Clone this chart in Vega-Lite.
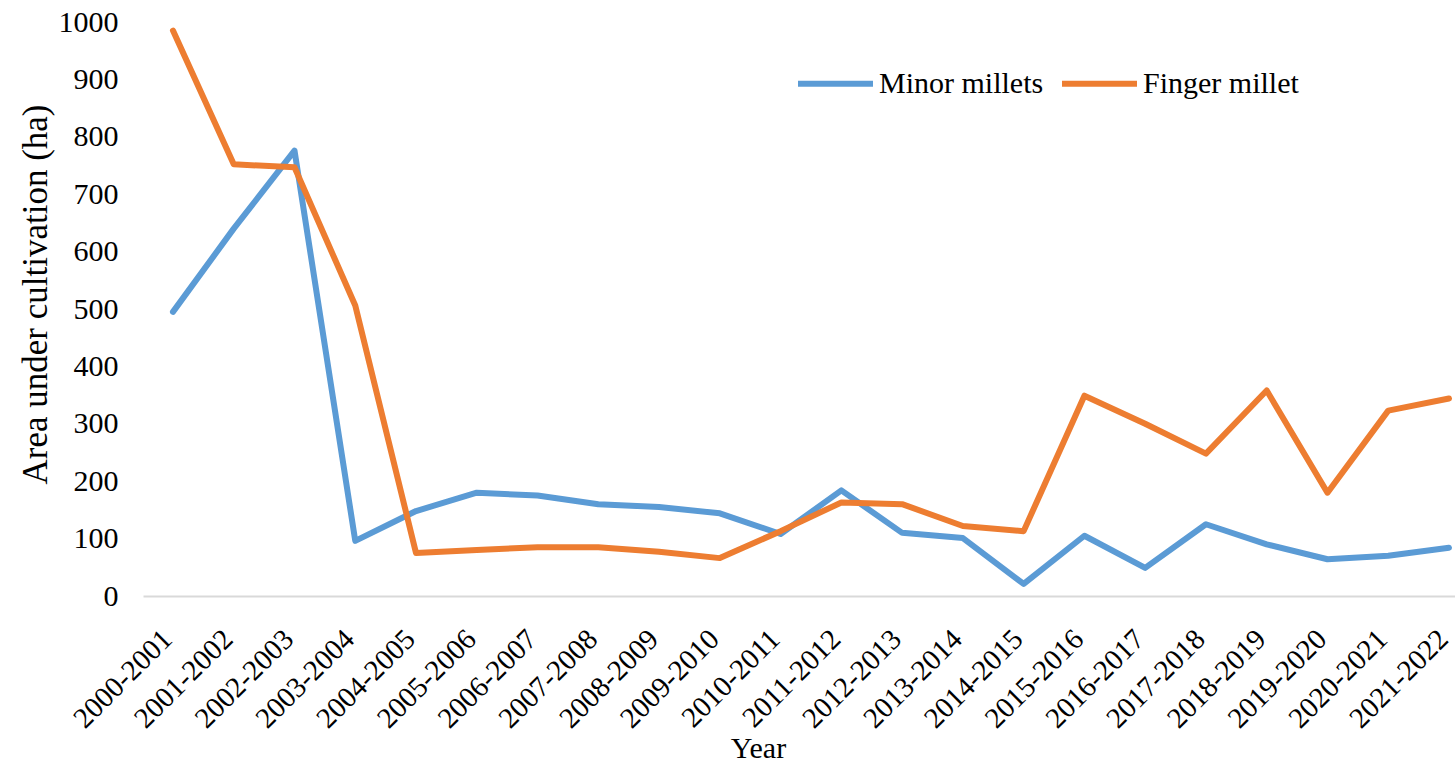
{
  "$schema": "https://vega.github.io/schema/vega-lite/v6.json",
  "width": 1312,
  "height": 574,
  "autosize": "none",
  "padding": {"left": 143, "top": 22, "right": 0, "bottom": 168},
  "background": "white",
  "config": {"view": {"stroke": null}, "font": "Liberation Serif"},
  "data": {
    "values": [
      {"year": "2000-2001", "series": "Minor millets", "value": 495},
      {"year": "2001-2002", "series": "Minor millets", "value": 640},
      {"year": "2002-2003", "series": "Minor millets", "value": 776},
      {"year": "2003-2004", "series": "Minor millets", "value": 96},
      {"year": "2004-2005", "series": "Minor millets", "value": 148},
      {"year": "2005-2006", "series": "Minor millets", "value": 180},
      {"year": "2006-2007", "series": "Minor millets", "value": 175},
      {"year": "2007-2008", "series": "Minor millets", "value": 160},
      {"year": "2008-2009", "series": "Minor millets", "value": 155},
      {"year": "2009-2010", "series": "Minor millets", "value": 144},
      {"year": "2010-2011", "series": "Minor millets", "value": 108},
      {"year": "2011-2012", "series": "Minor millets", "value": 184},
      {"year": "2012-2013", "series": "Minor millets", "value": 110},
      {"year": "2013-2014", "series": "Minor millets", "value": 101},
      {"year": "2014-2015", "series": "Minor millets", "value": 21},
      {"year": "2015-2016", "series": "Minor millets", "value": 105},
      {"year": "2016-2017", "series": "Minor millets", "value": 49},
      {"year": "2017-2018", "series": "Minor millets", "value": 125},
      {"year": "2018-2019", "series": "Minor millets", "value": 90},
      {"year": "2019-2020", "series": "Minor millets", "value": 64},
      {"year": "2020-2021", "series": "Minor millets", "value": 70},
      {"year": "2021-2022", "series": "Minor millets", "value": 84},
      {"year": "2000-2001", "series": "Finger millet", "value": 985},
      {"year": "2001-2002", "series": "Finger millet", "value": 752},
      {"year": "2002-2003", "series": "Finger millet", "value": 747},
      {"year": "2003-2004", "series": "Finger millet", "value": 506},
      {"year": "2004-2005", "series": "Finger millet", "value": 75},
      {"year": "2005-2006", "series": "Finger millet", "value": 80},
      {"year": "2006-2007", "series": "Finger millet", "value": 85},
      {"year": "2007-2008", "series": "Finger millet", "value": 85},
      {"year": "2008-2009", "series": "Finger millet", "value": 77},
      {"year": "2009-2010", "series": "Finger millet", "value": 66},
      {"year": "2010-2011", "series": "Finger millet", "value": 113},
      {"year": "2011-2012", "series": "Finger millet", "value": 163},
      {"year": "2012-2013", "series": "Finger millet", "value": 160},
      {"year": "2013-2014", "series": "Finger millet", "value": 122},
      {"year": "2014-2015", "series": "Finger millet", "value": 113},
      {"year": "2015-2016", "series": "Finger millet", "value": 349},
      {"year": "2016-2017", "series": "Finger millet", "value": 300},
      {"year": "2017-2018", "series": "Finger millet", "value": 248},
      {"year": "2018-2019", "series": "Finger millet", "value": 358},
      {"year": "2019-2020", "series": "Finger millet", "value": 180},
      {"year": "2020-2021", "series": "Finger millet", "value": 323},
      {"year": "2021-2022", "series": "Finger millet", "value": 344}
    ]
  },
  "mark": {"type": "line", "strokeWidth": 6, "strokeJoin": "round", "strokeCap": "round"},
  "encoding": {
    "x": {
      "field": "year",
      "type": "ordinal",
      "sort": null,
      "scale": {"type": "point", "padding": 0.296, "align": 0.833},
      "axis": {
        "title": "Year",
        "labelAngle": -45,
        "labelAlign": "right",
        "labelBaseline": "middle",
        "labelPadding": 38,
        "labelOffset": -6,
        "labelOverlap": false,
        "ticks": false,
        "grid": false,
        "domainColor": "#d9d9d9",
        "domainWidth": 2,
        "labelFontSize": 29,
        "labelColor": "#000000",
        "titleFontSize": 30,
        "titleFontWeight": "normal",
        "titleColor": "#000000",
        "titleX": 615,
        "titleY": 161,
        "titleAlign": "center",
        "titleBaseline": "alphabetic"
      }
    },
    "y": {
      "field": "value",
      "type": "quantitative",
      "scale": {"domain": [0, 1000], "nice": false},
      "axis": {
        "title": "Area  under  cultivation  (ha)",
        "values": [0, 100, 200, 300, 400, 500, 600, 700, 800, 900, 1000],
        "format": "d",
        "grid": false,
        "domain": false,
        "ticks": false,
        "labelPadding": 25,
        "labelFontSize": 30,
        "labelColor": "#000000",
        "titleFontSize": 35,
        "titleFontWeight": "normal",
        "titleColor": "#000000",
        "titleAngle": -90,
        "titleX": -108,
        "titleY": 272,
        "titleAlign": "center",
        "titleBaseline": "middle"
      }
    },
    "color": {
      "field": "series",
      "type": "nominal",
      "scale": {"domain": ["Minor millets", "Finger millet"], "range": ["#5B9BD5", "#ED7D31"]},
      "legend": {
        "orient": "none",
        "legendX": 652,
        "legendY": 21,
        "direction": "horizontal",
        "title": null,
        "symbolType": "stroke",
        "symbolSize": 5625,
        "symbolStrokeWidth": 6,
        "labelFontSize": 30,
        "labelLimit": 400,
        "labelColor": "#000000",
        "labelOffset": 3,
        "columnPadding": 6,
        "padding": 0
      }
    }
  }
}
